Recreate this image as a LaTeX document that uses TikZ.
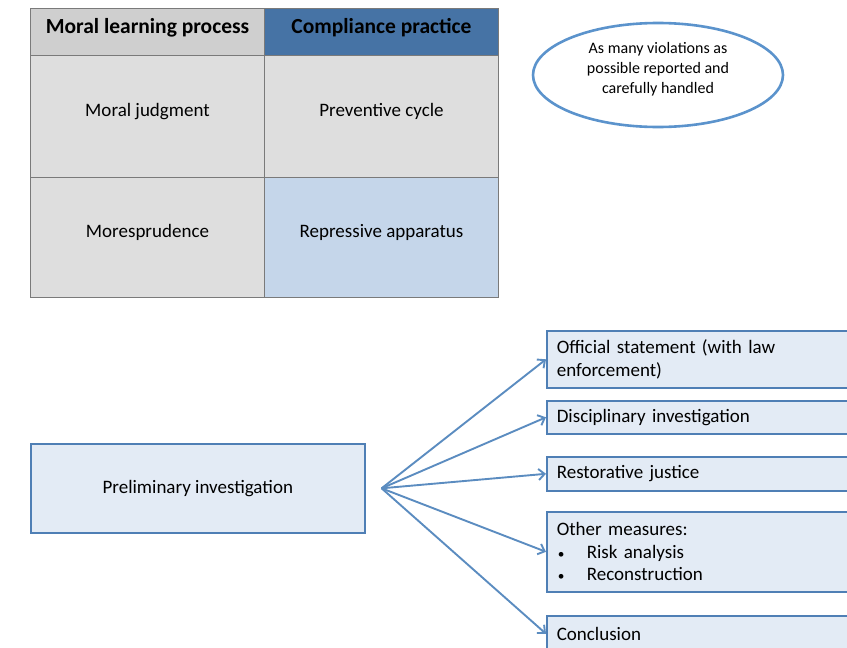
\documentclass[tikz,border=0pt]{standalone}
\usepackage{fontspec}
\setmainfont{Carlito}
\usetikzlibrary{shapes.geometric,arrows.meta}
\definecolor{hdgray}{HTML}{CFCFCF}
\definecolor{hdblue}{HTML}{4673A5}
\definecolor{cellgray}{HTML}{DEDEDE}
\definecolor{cellblue}{HTML}{C5D6EA}
\definecolor{tline}{HTML}{7A7A7A}
\definecolor{ellblue}{HTML}{5B93CC}
\definecolor{boxfill}{HTML}{E3EBF5}
\definecolor{boxline}{HTML}{4F7FB5}
\definecolor{arrblue}{HTML}{5B8CC0}
\tikzset{
  x=1pt, y=-1pt,
  cell/.style={draw=tline, line width=1pt, minimum width=234pt, inner sep=0pt, anchor=north west, text height=13pt, text depth=14pt, font=\fontsize{19}{22}\selectfont},
  hcell/.style={cell, minimum height=47pt, text height=13pt, text depth=10pt, font=\fontsize{21.5}{24}\bfseries},
  rbox/.style={draw=boxline, fill=boxfill, line width=1.6pt, anchor=north west, text width=292pt, inner xsep=10pt, inner ysep=0pt, align=left, font=\fontsize{19}{22.5}\selectfont},
  conn/.style={draw=arrblue, line width=1.9pt, -{Straight Barb[length=6pt,width=11pt]}}
}
\newcommand{\blt}{\makebox[30pt][l]{\hspace{1pt}\scalebox{0.7}{\textbullet}}}
\begin{document}
\begin{tikzpicture}
\useasboundingbox (0,0) rectangle (847,648);
% table
\node[hcell, fill=hdgray] (h1) at (30,8) {Moral learning process};
\node[hcell, fill=hdblue] (h2) at (264,8) {Compliance practice};
\node[cell, fill=cellgray, minimum height=122pt] (c11) at (30,55) {Moral judgment};
\node[cell, fill=cellgray, minimum height=122pt] (c12) at (264,55) {Preventive cycle};
\node[cell, fill=cellgray, minimum height=120pt] (c21) at (30,177) {Moresprudence};
\node[cell, fill=cellblue, minimum height=120pt] (c22) at (264,177) {Repressive apparatus};
% ellipse
\node[ellipse, draw=ellblue, line width=2.6pt, minimum width=250pt, minimum height=104pt,
  label={[name=ellt, align=center, yshift=6pt, font=\fontsize{16}{20}\selectfont]center:As many violations as\\possible reported and\\carefully handled}] (ell) at (658,75) {};
% preliminary
\node[draw=boxline, fill=boxfill, line width=1.6pt, minimum width=334pt, minimum height=89pt, anchor=north west, font=\fontsize{19}{22}\selectfont] (pre) at (30,443) {Preliminary investigation};
\coordinate (o) at ([xshift=16pt]pre.east);
% right boxes
\node[rbox, minimum height=57pt] (b1) at (546,330) {Official statement (with law\\enforcement)};
\node[rbox, minimum height=33pt] (b2) at (546,400) {Disciplinary investigation};
\node[rbox, minimum height=34pt] (b3) at (546,456) {Restorative justice};
\node[rbox, minimum height=80pt] (b4) at (546,511) {Other measures:\\\blt Risk analysis\\\blt Reconstruction};
\node[rbox, minimum height=36pt] (b5) at (546,615) {Conclusion};
% connectors
\foreach \b in {b1,b2,b3,b4,b5}{\draw[conn] (o) -- (\b.west);}
\end{tikzpicture}
\end{document}
